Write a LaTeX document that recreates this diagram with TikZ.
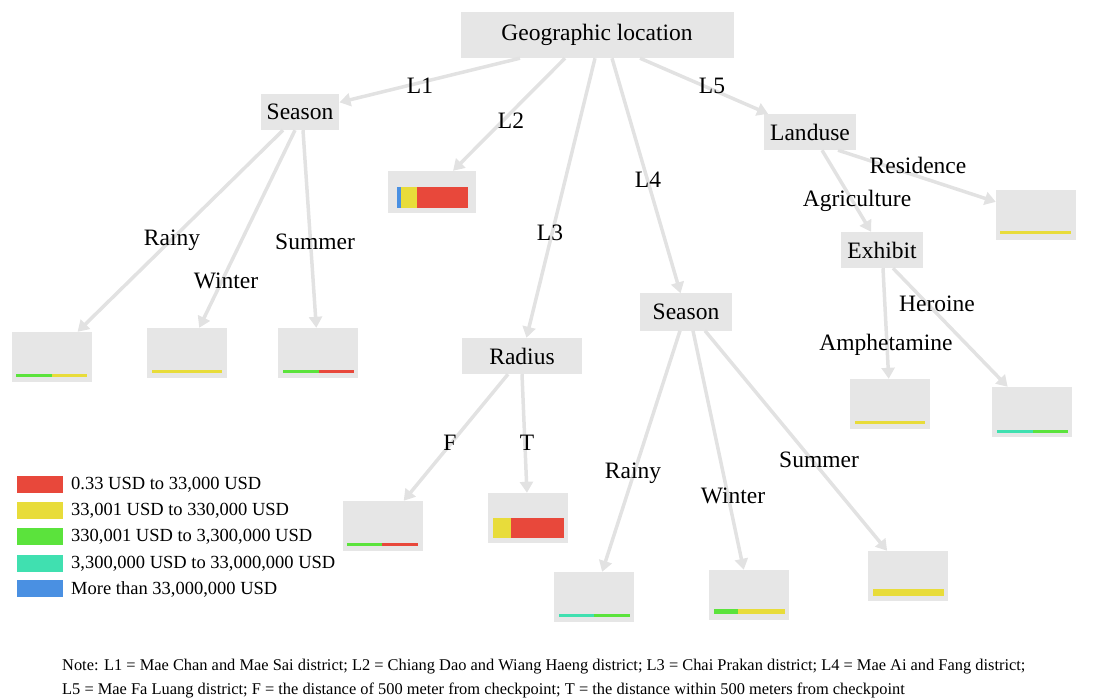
\documentclass[tikz,border=0pt]{standalone}
\usepackage{fontspec}
\setmainfont{Liberation Serif}
\usetikzlibrary{arrows.meta}
\definecolor{boxg}{HTML}{E6E6E6}
\definecolor{edgeg}{HTML}{E2E2E2}
\definecolor{cred}{HTML}{E8483B}
\definecolor{cyel}{HTML}{E8DC3A}
\definecolor{cgrn}{HTML}{5BE33C}
\definecolor{ccya}{HTML}{40E0B0}
\definecolor{cblu}{HTML}{4A90E2}
\tikzset{
  cat/.style={fill=boxg, draw=none, inner xsep=6pt, minimum height=36pt, font=\fontsize{23.5}{26}\selectfont},
  leaf/.style={fill=boxg, draw=none, minimum width=80pt, minimum height=50pt, inner sep=0pt},
  lbl/.style={font=\fontsize{23.5}{26}\selectfont, inner sep=1pt},
  edge/.style={draw=edgeg, line width=3.5pt, -{Triangle[width=13pt,length=11pt]}, shorten <=0pt},
  legtxt/.style={font=\fontsize{18.5}{20}\selectfont, anchor=west, inner sep=0pt},
  notetxt/.style={font=\fontsize{16.4}{18}\selectfont, anchor=west, inner sep=0pt},
  bar/.style={line width=3pt},
}
\begin{document}
\begin{tikzpicture}[x=1pt,y=-1pt]
\useasboundingbox (0,0) rectangle (1099,700);
% category nodes
\node[cat, minimum width=273pt, minimum height=46pt] (geo) at (597,35) {Geographic location};
\node[cat, minimum width=75pt] (s1) at (300,112) {Season};
\node[cat, minimum width=84pt] (land) at (810,132) {Landuse};
\node[cat, minimum width=80pt] (exh) at (882,250) {Exhibit};
\node[cat, minimum width=92pt, minimum height=37pt] (s4) at (686,312) {Season};
\node[cat, minimum width=120pt] (rad) at (522,356) {Radius};
% leaves
\node[leaf, minimum width=88pt, minimum height=42pt] (l2) at (432,192) {};
\node[leaf] (res) at (1036,215) {};
\node[leaf] (r1) at (52,357) {};
\node[leaf] (w1) at (187,353) {};
\node[leaf] (su1) at (318,353) {};
\node[leaf] (amp) at (890,404) {};
\node[leaf] (her) at (1032,412) {};
\node[leaf] (fl) at (383,526) {};
\node[leaf] (tl) at (528,518) {};
\node[leaf] (r4) at (594,597) {};
\node[leaf] (w4) at (749,595) {};
\node[leaf] (su4) at (908,576) {};
% bars
\fill[cblu] (397,187) rectangle (401,208);
\fill[cyel] (401,187) rectangle (417,208);
\fill[cred] (417,187) rectangle (468,208);
\draw[bar, cyel] (1000,233) -- (1071,233);
\draw[bar, cgrn] (16,375) -- (52,375); \draw[bar, cyel] (52,375) -- (87,375);
\draw[bar, cyel] (152,371) -- (222,371);
\draw[bar, cgrn] (283,371) -- (319,371); \draw[bar, cred] (319,371) -- (354,371);
\draw[bar, cyel] (855,422) -- (925,422);
\draw[bar, ccya] (997,431) -- (1033,431); \draw[bar, cgrn] (1033,431) -- (1068,431);
\draw[bar, cgrn] (347,544) -- (382,544); \draw[bar, cred] (382,544) -- (418,544);
\fill[cyel] (493,518) rectangle (511,538);
\fill[cred] (511,518) rectangle (564,538);
\draw[bar, ccya] (559,615) -- (594,615); \draw[bar, cgrn] (594,615) -- (630,615);
\draw[line width=5pt, cgrn] (714,611) -- (738,611); \draw[line width=5pt, cyel] (738,611) -- (785,611);
\draw[line width=7pt, cyel] (873,592) -- (944,592);
% edges
\draw[edge] ([xshift=-77pt]geo.south) -- (s1);
\draw[edge] ([xshift=-32pt]geo.south) -- (l2);
\draw[edge] ([xshift=-2pt]geo.south) -- (rad);
\draw[edge] ([xshift=15pt]geo.south) -- (s4);
\draw[edge] ([xshift=43pt]geo.south) -- (land);
\draw[edge] ([xshift=-17pt]s1.south) -- (r1);
\draw[edge] ([xshift=-5pt]s1.south) -- (w1);
\draw[edge] ([xshift=3pt]s1.south) -- (su1);
\draw[edge] ([xshift=12pt]land.south) -- (exh);
\draw[edge] ([xshift=28pt]land.south) -- (res);
\draw[edge] ([xshift=1pt]exh.south) -- (amp);
\draw[edge] ([xshift=11pt]exh.south) -- (her);
\draw[edge] ([xshift=-14pt]rad.south) -- (fl);
\draw[edge] ([xshift=0pt]rad.south) -- (tl);
\draw[edge] ([xshift=-6pt]s4.south) -- (r4);
\draw[edge] ([xshift=7pt]s4.south) -- (w4);
\draw[edge] ([xshift=19pt]s4.south) -- (su4);
% labels
\node[lbl] (tL1) at (420,86) {L1};
\node[lbl] (tL2) at (511,121) {L2};
\node[lbl] (tL3) at (550,233) {L3};
\node[lbl] (tL4) at (648,180) {L4};
\node[lbl] (tL5) at (712,86) {L5};
\node[lbl] (tR1) at (172,240) {Rainy};
\node[lbl] (tW1) at (226,281) {Winter};
\node[lbl] (tS1) at (315,242) {Summer};
\node[lbl] (tAg) at (857,201) {Agriculture};
\node[lbl] (tRe) at (918,165) {Residence};
\node[lbl] (tAm) at (886,345) {Amphetamine};
\node[lbl] (tHe) at (937,304) {Heroine};
\node[lbl] (tF) at (450,443) {F};
\node[lbl] (tT) at (527,443) {T};
\node[lbl] (tR4) at (633,473) {Rainy};
\node[lbl] (tW4) at (733,496) {Winter};
\node[lbl] (tS4) at (819,460) {Summer};
% legend
\fill[cred] (17,476) rectangle (63,493); \node[legtxt] (lg1) at (71,485) {0.33 USD to 33,000 USD};
\fill[cyel] (17,502) rectangle (63,519); \node[legtxt] (lg2) at (71,511) {33,001 USD to 330,000 USD};
\fill[cgrn] (17,528) rectangle (63,545); \node[legtxt] (lg3) at (71,537) {330,001 USD to 3,300,000 USD};
\fill[ccya] (17,555) rectangle (63,572); \node[legtxt] (lg4) at (71,564) {3,300,000 USD to 33,000,000 USD};
\fill[cblu] (17,580) rectangle (63,597); \node[legtxt] (lg5) at (71,589) {More than 33,000,000 USD};
% note
\node[notetxt] (note1) at (62,667) {Note: L1 = Mae Chan and Mae Sai district; L2 = Chiang Dao and Wiang Haeng district; L3 = Chai Prakan district; L4 = Mae Ai and Fang district;};
\node[notetxt] (note2) at (62,690) {L5 = Mae Fa Luang district; F = the distance of 500 meter from checkpoint; T = the distance within 500 meters from checkpoint};
\end{tikzpicture}
\end{document}
